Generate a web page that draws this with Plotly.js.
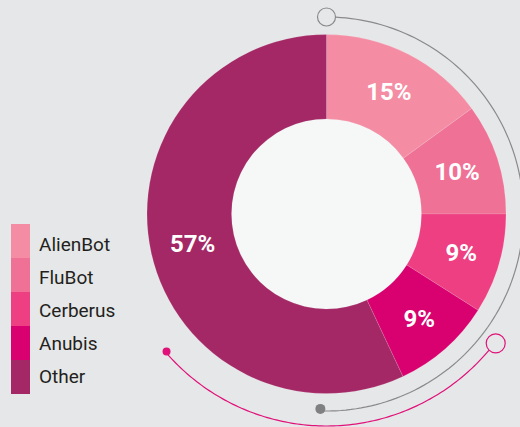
<!DOCTYPE html>
<html>
<head>
<meta charset="utf-8">
<script src="https://cdn.plot.ly/plotly-3.0.1.min.js"></script>
<style>
html,body{margin:0;padding:0;background:#e6e7e8;}
#chart{width:520px;height:427px;}
</style>
</head>
<body>
<div id="chart"></div>
<script>
// Data
const categories = ["AlienBot", "FluBot", "Cerberus", "Anubis", "Other"];
const shares = [15, 10, 9, 9, 57];
const colors = ["#f48da4", "#ef7196", "#ed3f81", "#d9006f", "#a32865"];

// Geometry helpers (pixel -> paper)
const W = 520, H = 427;
const cx = 326.5, cy = 214, R = 179.5, Rh = 95;
const px = v => v / W;
const py = v => 1 - v / H;

function arcPath(r, a0, a1) {
  const n = 120;
  let d = "";
  for (let i = 0; i <= n; i++) {
    const t = (a0 + (a1 - a0) * i / n) * Math.PI / 180;
    const x = cx + r * Math.sin(t), y = cy - r * Math.cos(t);
    d += (i === 0 ? "M" : "L") + px(x).toFixed(5) + "," + py(y).toFixed(5);
  }
  return d;
}
function circleAt(r, ang, rad, fill, line) {
  const t = ang * Math.PI / 180;
  const x = cx + r * Math.sin(t), y = cy - r * Math.cos(t);
  return {type: "circle", xref: "paper", yref: "paper",
    x0: px(x - rad), x1: px(x + rad), y0: py(y + rad), y1: py(y - rad),
    fillcolor: fill, line: line, layer: "above"};
}

const shapes = [
  // hole background
  {type: "circle", xref: "paper", yref: "paper", layer: "below",
   x0: px(cx - Rh), x1: px(cx + Rh), y0: py(cy + Rh), y1: py(cy - Rh),
   fillcolor: "#f6f7f7", line: {width: 0}},
  // grey arc
  {type: "path", xref: "paper", yref: "paper", path: arcPath(197, 2.7, 181.8),
   line: {color: "#8a8a8c", width: 1.2}},
  circleAt(197, 0, 9, "#e6e7e8", {color: "#8a8a8c", width: 1.2}),
  circleAt(195, 181.8, 5, "#808082", {width: 0}),
  // pink arc
  {type: "path", xref: "paper", yref: "paper", path: arcPath(212, 130, 229.3),
   line: {color: "#e0127a", width: 1.2}},
  circleAt(213, 127.4, 9.5, "#e6e7e8", {color: "#e0127a", width: 1.2}),
  circleAt(211, 229.3, 4, "#e0127a", {width: 0})
];

// custom legend
const annotations = [];
const lx0 = 11, lx1 = 30, ly0 = 224, lh = 34;
categories.forEach((c, i) => {
  shapes.push({type: "rect", xref: "paper", yref: "paper",
    x0: px(lx0), x1: px(lx1), y0: py(ly0 + (i + 1) * lh), y1: py(ly0 + i * lh),
    fillcolor: colors[i], line: {width: 0}, layer: "above"});
  annotations.push({xref: "paper", yref: "paper", x: px(37), y: py(244 + i * 33),
    xanchor: "left", yanchor: "middle", showarrow: false, text: c,
    font: {family: "Roboto, sans-serif", size: 19, color: "#231f20"}});
});

const data = [{
  type: "pie",
  labels: categories,
  values: shares,
  sort: false,
  direction: "clockwise",
  rotation: 0,
  hole: Rh / R,
  marker: {colors: colors, line: {color: "rgba(255,255,255,0.25)", width: 0.5}},
  texttemplate: "%{value}%",
  textposition: "inside",
  insidetextorientation: "horizontal",
  textfont: {family: "Roboto, sans-serif", size: 24, color: "#ffffff", weight: "bold"},
  domain: {x: [px(cx - R), px(cx + R)], y: [py(cy + R), py(cy - R)]},
  showlegend: false,
  hoverinfo: "label+percent"
}];

const layout = {
  width: W, height: H,
  margin: {l: 0, r: 0, t: 0, b: 0},
  paper_bgcolor: "#e6e7e8",
  plot_bgcolor: "#e6e7e8",
  showlegend: false,
  shapes: shapes,
  annotations: annotations
};

Plotly.newPlot("chart", data, layout, {displayModeBar: false, staticPlot: true});
</script>
</body>
</html>
